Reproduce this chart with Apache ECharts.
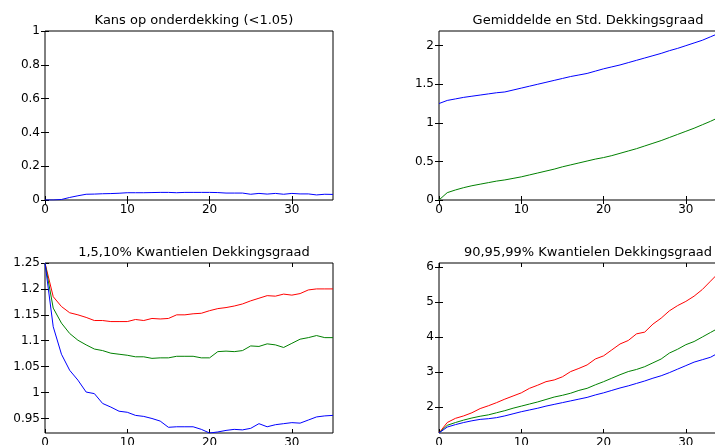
<!DOCTYPE html>
<html><head><meta charset="utf-8">
<script src="https://cdn.jsdelivr.net/npm/echarts@6/dist/echarts.min.js"></script>
<style>html,body{margin:0;padding:0;background:#fff;overflow:hidden}#c{width:780px;height:470px}</style>
</head><body><div id="c"></div><script>
// ---- data ----
const years = [0,1,2,3,4,5,6,7,8,9,10,11,12,13,14,15,16,17,18,19,20,21,22,23,24,25,26,27,28,29,30,31,32,33,34,35];

const titles = ['Kans op onderdekking (<1.05)', 'Gemiddelde en Std. Dekkingsgraad',
                '1,5,10% Kwantielen Dekkingsgraad', '90,95,99% Kwantielen Dekkingsgraad'];

const xTicks = [0,10,20,30];
const yTicks1 = [0,0.2,0.4,0.6,0.8,1];
const yTicks2 = [0,0.5,1,1.5,2];
const yTicks3 = [0.95,1,1.05,1.1,1.15,1.2,1.25];
const yTicks4 = [2,3,4,5,6];

// panel 1: probability of underfunding
const kansOnder = [0,0,0.003,0.015,0.025,0.034,0.035,0.037,0.038,0.040,0.043,0.043,0.043,0.044,0.045,0.045,0.043,0.045,0.045,0.045,0.045,0.044,0.041,0.041,0.041,0.034,0.039,0.035,0.039,0.034,0.039,0.036,0.036,0.030,0.034,0.033];

// panel 2: mean and std
const gemiddelde = [1.25,1.29,1.31,1.33,1.345,1.36,1.375,1.39,1.40,1.425,1.45,1.475,1.50,1.525,1.55,1.575,1.60,1.62,1.64,1.67,1.70,1.725,1.75,1.78,1.81,1.84,1.87,1.90,1.935,1.965,2.00,2.035,2.07,2.115,2.16,2.19];
const stdDev = [0,0.095,0.13,0.16,0.185,0.205,0.225,0.245,0.26,0.28,0.30,0.325,0.35,0.375,0.40,0.43,0.455,0.48,0.505,0.53,0.55,0.575,0.605,0.635,0.665,0.70,0.735,0.77,0.81,0.85,0.89,0.93,0.975,1.02,1.07,1.11];

// panel 3: low quantiles
const q1 = [1.25,1.127,1.074,1.043,1.024,1.001,0.998,0.979,0.972,0.964,0.962,0.956,0.954,0.950,0.945,0.933,0.934,0.934,0.934,0.929,0.922,0.924,0.927,0.929,0.928,0.931,0.940,0.934,0.938,0.940,0.942,0.941,0.947,0.953,0.955,0.956];
const q5 = [1.25,1.163,1.134,1.114,1.101,1.092,1.084,1.081,1.076,1.074,1.072,1.069,1.069,1.066,1.067,1.067,1.070,1.070,1.070,1.067,1.067,1.079,1.080,1.079,1.081,1.090,1.089,1.094,1.092,1.087,1.095,1.103,1.106,1.110,1.106,1.106];
const q10 = [1.25,1.185,1.166,1.154,1.150,1.145,1.139,1.139,1.137,1.137,1.137,1.141,1.139,1.143,1.142,1.143,1.150,1.150,1.152,1.153,1.158,1.162,1.164,1.167,1.171,1.177,1.182,1.187,1.186,1.190,1.188,1.191,1.198,1.200,1.200,1.200];

// panel 4: high quantiles
const q90 = [1.25,1.42,1.49,1.55,1.60,1.64,1.66,1.69,1.74,1.80,1.86,1.91,1.96,2.02,2.07,2.12,2.17,2.22,2.27,2.34,2.40,2.47,2.54,2.60,2.67,2.74,2.82,2.89,2.98,3.08,3.18,3.28,3.35,3.42,3.55,3.63];
const q95 = [1.25,1.47,1.55,1.62,1.68,1.73,1.77,1.83,1.89,1.96,2.02,2.08,2.14,2.21,2.28,2.33,2.39,2.47,2.53,2.63,2.72,2.82,2.92,3.01,3.07,3.15,3.26,3.37,3.54,3.65,3.78,3.87,4.00,4.13,4.26,4.40];
const q99 = [1.25,1.55,1.67,1.74,1.83,1.95,2.03,2.12,2.22,2.31,2.40,2.53,2.62,2.72,2.77,2.86,3.01,3.10,3.20,3.37,3.46,3.63,3.80,3.90,4.09,4.14,4.37,4.54,4.75,4.90,5.02,5.17,5.36,5.60,5.84,6.10];

// ---- layout / style ----
const BLUE = '#0000ff', GREEN = '#008000', RED = '#ff0000';
const FONT = 'DejaVu Sans';
const grids = [
  {left:45, top:31, width:288, height:169},
  {left:439, top:31, width:288, height:169},
  {left:45, top:263, width:288, height:170},
  {left:439, top:263, width:288, height:170}
];
const yRanges = [[0,1],[0,2.19],[0.922,1.25],[1.25,6.12]];
const yTickSets = [yTicks1, yTicks2, yTicks3, yTicks4];
const panelSeries = [
  [[kansOnder, BLUE]],
  [[gemiddelde, BLUE],[stdDev, GREEN]],
  [[q10, RED],[q5, GREEN],[q1, BLUE]],
  [[q99, RED],[q95, GREEN],[q90, BLUE]]
];

const option = {animation:false, backgroundColor:'#fff', grid:[], xAxis:[], yAxis:[], series:[], title:[]};
grids.forEach((g, i) => {
  option.grid.push(Object.assign({show:true, borderColor:'#000', borderWidth:1, backgroundColor:'#fff'}, g));
  ['bottom','top'].forEach(pos => option.xAxis.push({
    type:'value', gridIndex:i, position:pos, min:0, max:35,
    axisLine:{show:false}, splitLine:{show:false},
    axisTick:{show:true, inside:true, length:4, customValues:xTicks, lineStyle:{color:'#000'}},
    axisLabel:{show:pos==='bottom', customValues:xTicks, color:'#000', fontFamily:FONT, fontSize:12, margin:4}
  }));
  ['left','right'].forEach(pos => option.yAxis.push({
    type:'value', gridIndex:i, position:pos, min:yRanges[i][0], max:yRanges[i][1],
    axisLine:{show:false}, splitLine:{show:false},
    axisTick:{show:true, inside:true, length:4, customValues:yTickSets[i], lineStyle:{color:'#000'}},
    axisLabel:{show:pos==='left', customValues:yTickSets[i], color:'#000', fontFamily:FONT, fontSize:12, margin:5}
  }));
  option.title.push({
    text: titles[i], left: g.left + g.width/2, top: g.top - 22, textAlign:'center',
    textStyle:{fontFamily:FONT, fontSize:13, fontWeight:'normal', color:'#000'}
  });
  panelSeries[i].forEach(([arr, col]) => option.series.push({
    type:'line', xAxisIndex:2*i, yAxisIndex:2*i, symbol:'none', showSymbol:false,
    data: years.map((x, k) => [x, arr[k]]),
    lineStyle:{width:1, color:col}, itemStyle:{color:col}, clip:true, silent:true
  }));
});

const chart = echarts.init(document.getElementById('c'), null, {renderer:'canvas'});
chart.setOption(option);
</script></body></html>
